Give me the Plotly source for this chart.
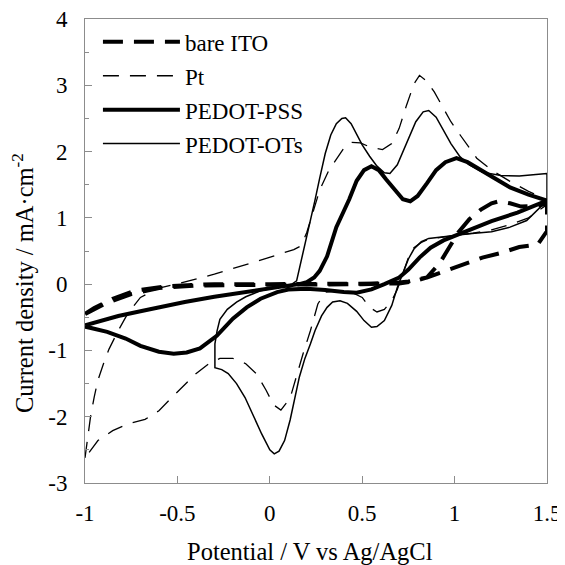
import plotly.graph_objects as go

# ---- data ----
ito_v = [-1.0, -0.95, -0.85, -0.73, -0.55, -0.3, 0.0, 0.3, 0.6, 0.7, 0.78, 0.85, 0.92, 0.98, 1.02, 1.08, 1.14, 1.2, 1.24, 1.3, 1.36, 1.45, 1.5,
         1.5, 1.45, 1.35, 1.25, 1.15, 1.05, 0.95, 0.85, 0.75, 0.65, 0.5, 0.3, 0.0, -0.4, -0.6, -0.75, -0.88, -1.0]
ito_j = [-0.45, -0.36, -0.22, -0.1, -0.03, 0.0, 0.0, 0.0, 0.0, 0.01, 0.04, 0.1, 0.32, 0.58, 0.78, 0.98, 1.12, 1.22, 1.25, 1.22, 1.17, 1.18, 1.22,
         0.8, 0.6, 0.56, 0.47, 0.4, 0.3, 0.2, 0.1, 0.04, 0.01, 0.0, 0.0, -0.01, -0.02, -0.06, -0.15, -0.28, -0.45]

pt_v = [-1.0, -0.985, -0.97, -0.95, -0.93, -0.9, -0.87, -0.82, -0.77, -0.7, -0.6, -0.48, -0.3, -0.1, 0.05, 0.13, 0.17, 0.2, 0.23, 0.27,
        0.32, 0.36, 0.4, 0.44, 0.49, 0.55, 0.61, 0.66, 0.7, 0.74, 0.78, 0.81, 0.85, 0.89, 0.94, 0.98, 1.03, 1.08, 1.12, 1.2, 1.3, 1.4, 1.5,
        1.5, 1.4, 1.3, 1.2, 1.1, 0.95, 0.86, 0.82, 0.78, 0.75, 0.72, 0.69, 0.66, 0.62, 0.58, 0.54, 0.5, 0.44, 0.36, 0.3, 0.26, 0.22, 0.18,
        0.15, 0.11, 0.06, 0.02, -0.02, -0.07, -0.13, -0.2, -0.27, -0.33, -0.4, -0.46, -0.53, -0.6, -0.675, -0.77, -0.85, -0.93, -1.0]
pt_j = [-2.62, -2.3, -2.0, -1.7, -1.45, -1.2, -0.98, -0.7, -0.45, -0.2, -0.06, 0.02, 0.15, 0.32, 0.45, 0.52, 0.58, 0.78, 1.05, 1.42,
        1.72, 1.88, 2.05, 2.14, 2.13, 2.06, 2.03, 2.12, 2.35, 2.7, 3.02, 3.15, 3.06, 2.9, 2.65, 2.45, 2.25, 2.05, 1.9, 1.72, 1.55, 1.4, 1.27,
        1.2, 1.0, 0.9, 0.82, 0.77, 0.72, 0.68, 0.63, 0.55, 0.4, 0.15, -0.08, -0.25, -0.38, -0.42, -0.35, -0.2, -0.12, -0.1, -0.12, -0.3, -0.7, -1.05,
        -1.35, -1.72, -1.9, -1.82, -1.6, -1.36, -1.2, -1.12, -1.12, -1.2, -1.35, -1.51, -1.71, -1.91, -2.04, -2.11, -2.21, -2.36, -2.62]

pss_v = [-1.0, -0.9, -0.82, -0.7, -0.6, -0.46, -0.3, -0.1, 0.08, 0.16, 0.2, 0.24, 0.27, 0.31, 0.36, 0.4, 0.43, 0.47, 0.51, 0.55, 0.59,
         0.63, 0.68, 0.72, 0.76, 0.8, 0.85, 0.9, 0.95, 1.01, 1.07, 1.13, 1.2, 1.3, 1.4, 1.5,
         1.42, 1.34, 1.2, 1.08, 0.94, 0.87, 0.81, 0.75, 0.7, 0.62, 0.55, 0.47, 0.4, 0.3, 0.2, 0.1, 0.04, -0.05, -0.125, -0.2, -0.287,
         -0.378, -0.45, -0.52, -0.6, -0.7, -0.78, -0.88, -1.0]
pss_j = [-0.62, -0.54, -0.48, -0.41, -0.35, -0.27, -0.19, -0.1, -0.03, 0.0, 0.03, 0.1, 0.2, 0.42, 0.86, 1.1, 1.28, 1.56, 1.72, 1.78, 1.72,
         1.58, 1.4, 1.28, 1.25, 1.33, 1.52, 1.72, 1.84, 1.9, 1.84, 1.74, 1.62, 1.46, 1.35, 1.26,
         1.17, 1.08, 0.95, 0.81, 0.66, 0.55, 0.4, 0.22, 0.1, 0.0, -0.08, -0.13, -0.12, -0.09, -0.07, -0.08, -0.12, -0.22, -0.35, -0.52, -0.78,
         -0.97, -1.03, -1.05, -1.02, -0.93, -0.82, -0.72, -0.64]

ots_v = [-0.297, -0.285, -0.27, -0.23, -0.18, -0.13, -0.05, 0.05, 0.12, 0.145, 0.17, 0.2, 0.22, 0.244, 0.27, 0.3, 0.33, 0.36, 0.39, 0.41,
         0.44, 0.47, 0.5, 0.54, 0.58, 0.62, 0.65, 0.69, 0.74, 0.79, 0.83, 0.86, 0.9, 0.94, 0.98, 1.03, 1.08, 1.15, 1.25, 1.35, 1.45, 1.5,
         1.5, 1.39, 1.3, 1.2, 1.08, 0.94, 0.86, 0.82, 0.78, 0.75, 0.72, 0.69, 0.66, 0.62, 0.58, 0.55, 0.51, 0.47, 0.42, 0.38, 0.34, 0.31,
         0.28, 0.245, 0.22, 0.19, 0.16, 0.136, 0.11, 0.08, 0.05, 0.024, 0.0, -0.044, -0.09, -0.134, -0.18, -0.225, -0.26, -0.297, -0.297]
ots_j = [-0.9, -0.7, -0.53, -0.38, -0.27, -0.19, -0.1, -0.04, 0.0, 0.05, 0.35, 0.7, 0.98, 1.26, 1.6, 1.97, 2.25, 2.42, 2.5, 2.51,
         2.42, 2.27, 2.1, 1.93, 1.78, 1.68, 1.67, 1.8, 2.12, 2.45, 2.6, 2.62, 2.52, 2.33, 2.12, 1.92, 1.8, 1.69, 1.64, 1.63, 1.65, 1.67,
         1.26, 0.96, 0.86, 0.79, 0.76, 0.71, 0.69, 0.64, 0.53, 0.38, 0.17, -0.05, -0.32, -0.55, -0.64, -0.65, -0.55, -0.41, -0.29, -0.25, -0.27, -0.35,
         -0.48, -0.7, -0.9, -1.12, -1.4, -1.71, -2.05, -2.36, -2.52, -2.56, -2.5, -2.26, -1.98, -1.71, -1.5, -1.35, -1.29, -1.26, -0.9]

x_ticks = [-1, -0.5, 0, 0.5, 1, 1.5]
x_ticklabels = ["-1", "-0.5", "0", "0.5", "1", "1.5"]
y_ticks = [-3, -2, -1, 0, 1, 2, 3, 4]
y_ticklabels = ["-3", "-2", "-1", "0", "1", "2", "3", "4"]

SERIF = "Liberation Serif, Times New Roman, serif"
GRAY = "#8c8c8c"

fig = go.Figure()
fig.add_trace(go.Scatter(x=ito_v, y=ito_j, mode="lines", name="bare ITO", legendgroup="a",
                         line=dict(color="black", width=4, dash="20px,11px")))
fig.add_trace(go.Scatter(x=pt_v, y=pt_j, mode="lines", name="Pt", legendgroup="b",
                         line=dict(color="black", width=1.3, dash="16px,11px")))
fig.add_trace(go.Scatter(x=pss_v, y=pss_j, mode="lines", name="PEDOT-PSS", legendgroup="c",
                         line=dict(color="black", width=4)))
fig.add_trace(go.Scatter(x=ots_v, y=ots_j, mode="lines", name="PEDOT-OTs", legendgroup="d",
                         line=dict(color="black", width=1.5)))

# the page body adds an 8px offset, so margins are shifted by 8px to place the plot like the reference
fig.update_layout(
    width=565, height=565,
    margin=dict(l=77, r=26, t=11, b=90, pad=0, autoexpand=False),
    paper_bgcolor="white", plot_bgcolor="white",
    font=dict(family=SERIF, size=23, color="black"),
    showlegend=True,
    legend=dict(x=0.028, y=0.997, xanchor="left", yanchor="top", bgcolor="rgba(0,0,0,0)",
                font=dict(family=SERIF, size=23), itemwidth=77, tracegroupgap=1),
    xaxis=dict(range=[-1, 1.5], tickvals=x_ticks, ticktext=x_ticklabels, ticks="inside", ticklen=7,
               tickcolor=GRAY, linecolor=GRAY, linewidth=1, mirror=True, showgrid=False, zeroline=False,
               automargin=False, ticklabelstandoff=9, ticklabeloverflow="allow",
               tickfont=dict(family=SERIF, size=23)),
    yaxis=dict(range=[-3, 4], tickvals=y_ticks, ticktext=y_ticklabels, ticks="inside", ticklen=7,
               tickcolor=GRAY, linecolor=GRAY, linewidth=1, mirror=True, showgrid=False, zeroline=False,
               automargin=False, ticklabelstandoff=12, ticklabeloverflow="allow",
               tickfont=dict(family=SERIF, size=23),
               minor=dict(ticks="inside", ticklen=4, dtick=0.5, tickcolor=GRAY)),
    annotations=[
        dict(text="Potential / V vs Ag/AgCl", xref="paper", yref="paper", x=0.487, y=-0.148,
             xanchor="center", yanchor="middle", showarrow=False, font=dict(family=SERIF, size=24.5)),
        dict(text="Current density / mA·cm<sup>-2</sup>", xref="paper", yref="paper", x=-0.133, y=0.43,
             xanchor="center", yanchor="middle", textangle=-90, showarrow=False, font=dict(family=SERIF, size=24.5)),
    ],
)

fig.write_html("out.html")
